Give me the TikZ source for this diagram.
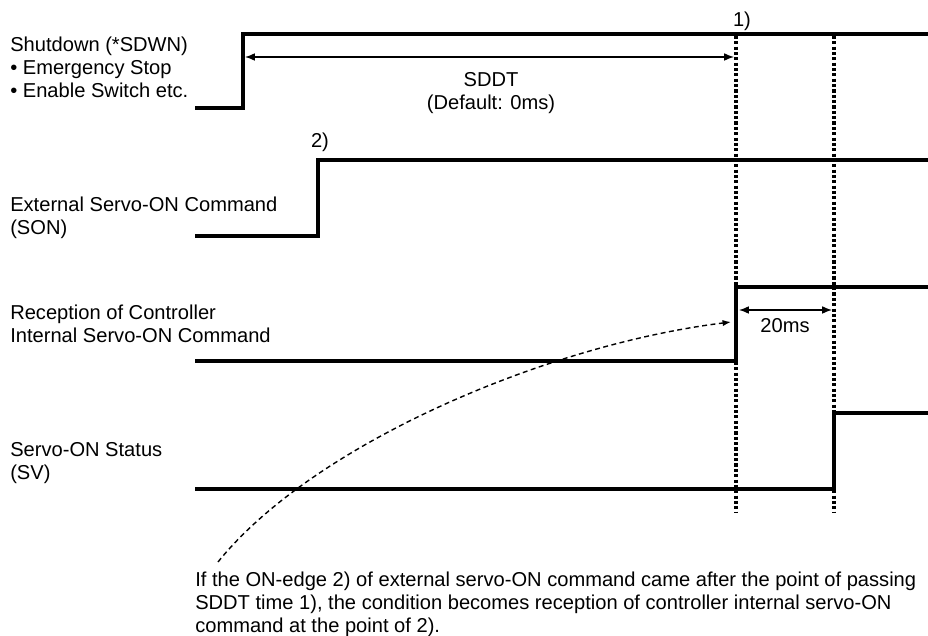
\documentclass[tikz,border=0pt]{standalone}
\usepackage{fontspec}
\setmainfont{Liberation Sans}
\usetikzlibrary{arrows.meta, positioning}

\begin{document}
\begin{tikzpicture}[x=0.025cm, y=-0.025cm,
    signal/.style={draw, line width=2.8pt, line join=miter},
    guide/.style={draw, line width=2.4pt, dash pattern=on 2.2pt off 1.6pt},
    span/.style={draw, {Latex[length=7pt,width=5.5pt]}-{Latex[length=7pt,width=5.5pt]}, line width=0.9pt},
    hint/.style={draw, -{Latex[length=6pt,width=4.5pt]}, line width=1pt, dash pattern=on 3.5pt off 2.5pt},
    lbl/.style={font=\fontsize{14.3}{16.2}\selectfont, inner sep=0pt, align=left, anchor=north west},
    tag/.style={font=\fontsize{14.3}{16.2}\selectfont, inner sep=0pt, anchor=base}]

    \useasboundingbox (0,0) rectangle (928,636);

    % signal names
    \node [lbl] (sdwn-lbl) at (10,37) {Shutdown (*SDWN)\\\textbullet{} Emergency Stop\\\textbullet{} Enable Switch etc.};
    \node [lbl] (son-lbl) at (10,197) {External Servo-ON Command\\(SON)};
    \node [lbl] (rcv-lbl) at (10,305) {Reception of Controller\\Internal Servo-ON Command};
    \node [lbl] (sv-lbl) at (10,442) {Servo-ON Status\\(SV)};

    % waveforms
    \path [signal] (195,108) -- (243,108) -- (243,34) -- (928,34);
    \path [signal] (195,236) -- (318,236) -- (318,160) -- (928,160);
    \path [signal] (195,361) -- (736,361) -- (736,287) -- (928,287);
    \path [signal] (195,489) -- (834,489) -- (834,413) -- (928,413);

    % timing points
    \coordinate (t1-top) at (736,36);
    \coordinate (t1-bot) at (736,513);
    \coordinate (t2-top) at (834,36);
    \coordinate (t2-bot) at (834,513);
    \path [guide] (t1-top) -- (t1-bot);
    \path [guide] (t2-top) -- (t2-bot);

    \node [tag] (pt1) at (742,27) {1)};
    \node [tag] (pt2) at (320,148) {2)};

    % SDDT span
    \coordinate (sddt-a) at (245,57);
    \coordinate (sddt-b) at (734,57);
    \path [span] (sddt-a) -- (sddt-b);
    \node [lbl, anchor=north, align=center] (sddt-lbl) at (491,72) {SDDT\\(Default: 0ms)};

    % 20ms span
    \coordinate (ms-a) at (739,310);
    \coordinate (ms-b) at (832,310);
    \path [span] (ms-a) -- (ms-b);
    \node [tag] (ms-lbl) at (785,333) {20ms};

    % note
    \coordinate (hint-a) at (218,562);
    \coordinate (hint-b) at (731,322);
    \path [hint] (hint-a) .. controls (312,445) and (545,345) .. (hint-b);
    \node [lbl] (note) at (195,572) {If the ON-edge 2) of external servo-ON command came after the point of passing\\SDDT time 1), the condition becomes reception of controller internal servo-ON\\command at the point of 2).};
\end{tikzpicture}
\end{document}
